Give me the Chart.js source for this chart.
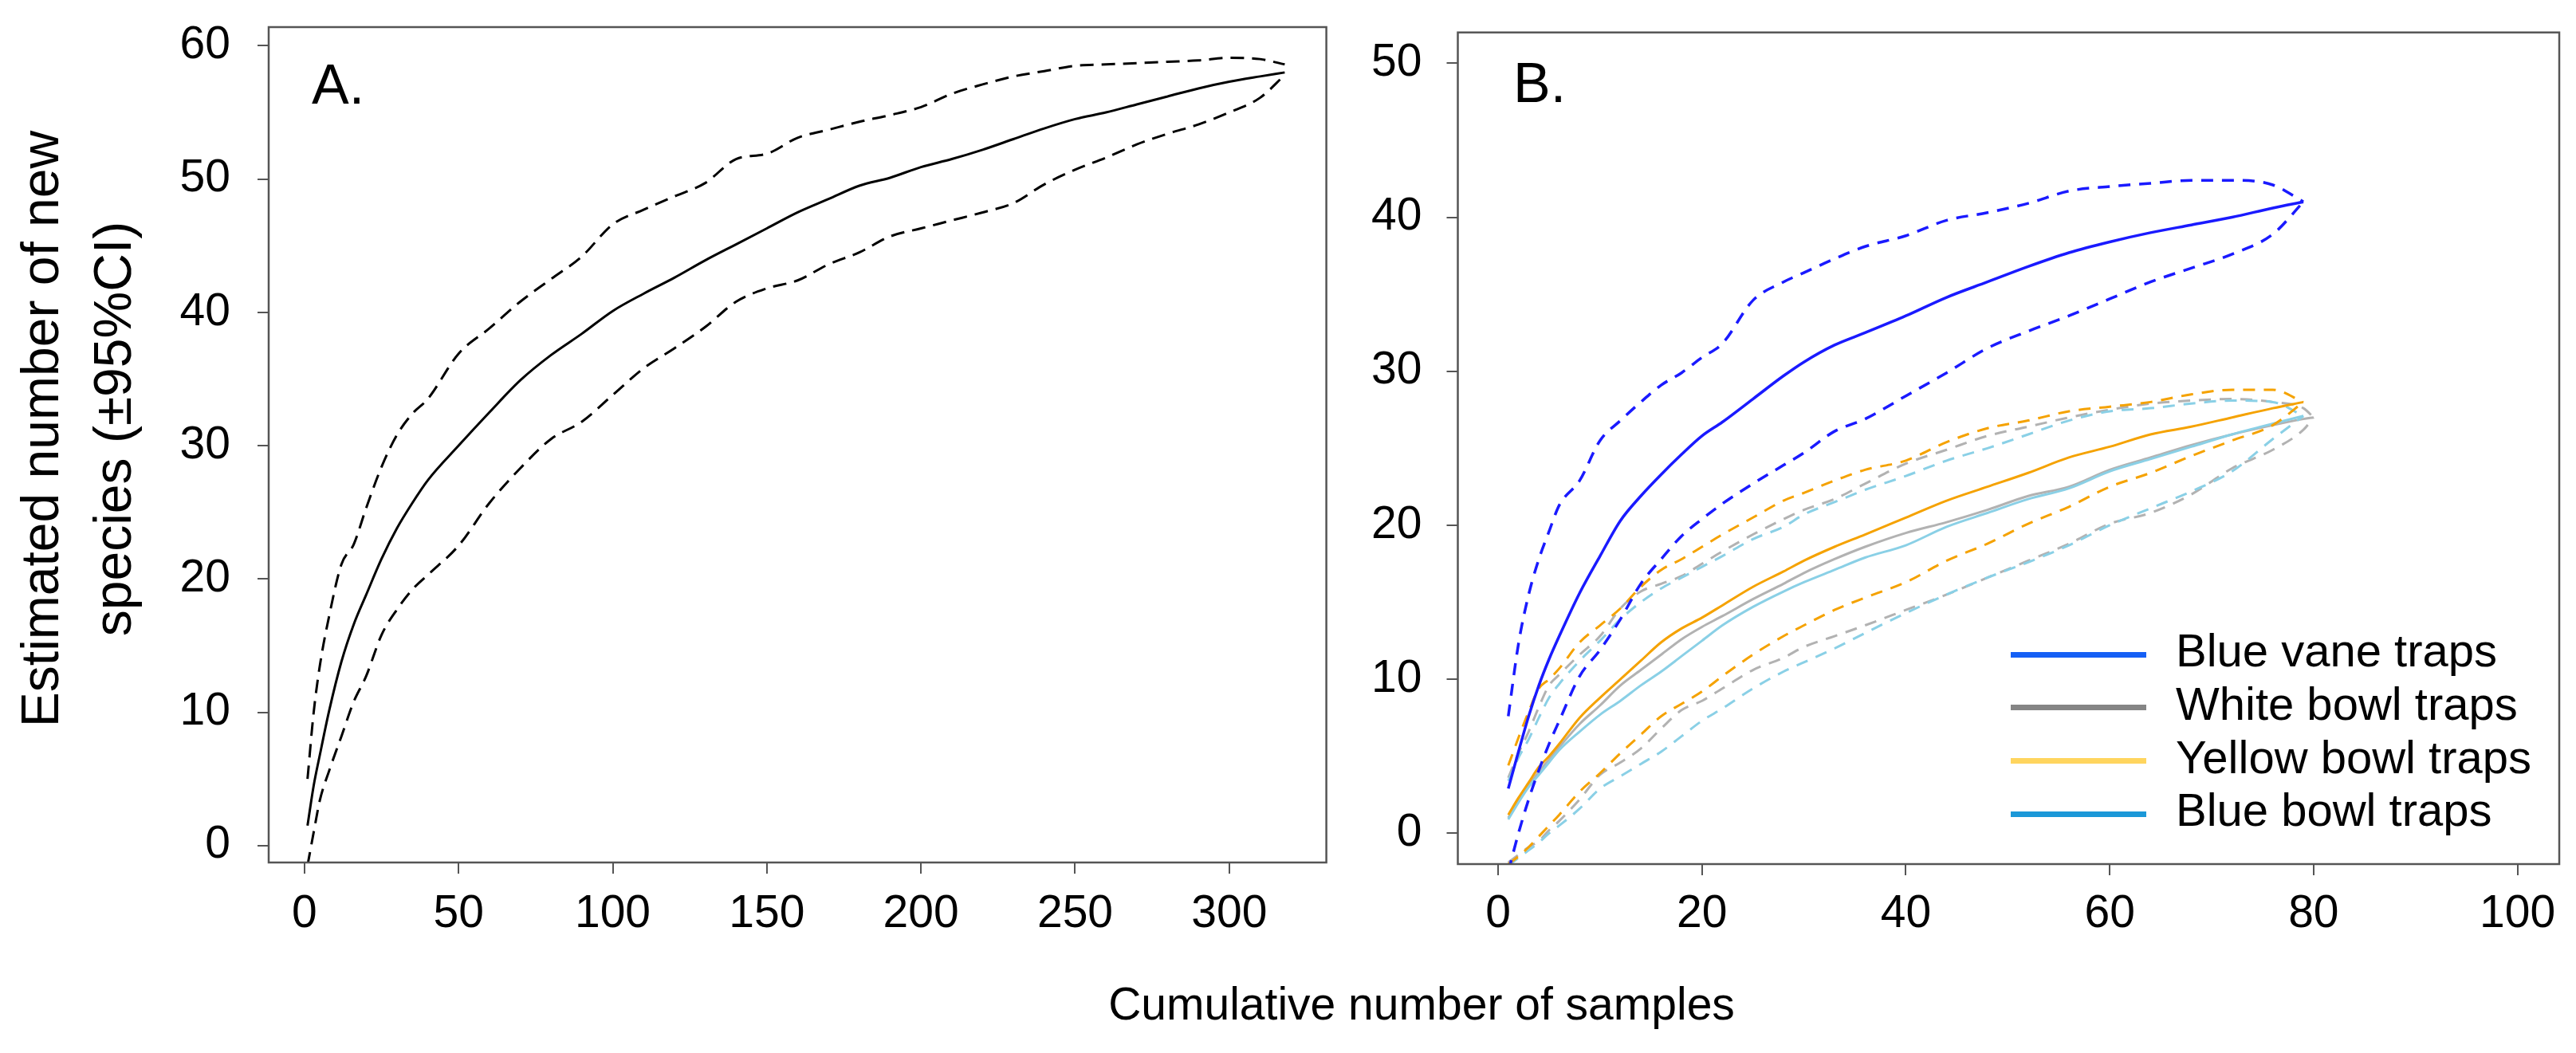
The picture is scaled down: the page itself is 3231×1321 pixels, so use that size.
<!DOCTYPE html>
<html>
<head>
<meta charset="utf-8">
<script src="https://cdn.jsdelivr.net/npm/chart.js@4.4.1/dist/chart.umd.min.js"></script>
<style>
html,body{margin:0;padding:0;background:#fff;}
body{width:3231px;height:1321px;position:relative;overflow:hidden;font-family:"Liberation Sans",Arial,sans-serif;color:#000;}
#wa{position:absolute;left:0;top:0;width:1720px;height:1321px;}
#wb{position:absolute;left:1720px;top:0;width:1511px;height:1321px;}
.txt{position:absolute;white-space:nowrap;color:#000;font-family:"Liberation Sans",Arial,sans-serif;}
#ytitle{left:-404px;top:447px;width:1000px;height:182px;font-size:66px;line-height:91px;text-align:center;transform:rotate(-90deg);}
#xtitle{left:1283px;top:1231px;width:1000px;font-size:57px;line-height:57px;text-align:center;}
.panel{font-size:70px;line-height:70px;}
.legline{position:absolute;height:7px;width:170px;left:2522px;}
.legtxt{position:absolute;left:2729px;font-size:58px;line-height:58px;}
</style>
</head>
<body>
<div id="wa"><canvas id="ca" width="1720" height="1321"></canvas></div>
<div id="wb"><canvas id="cb" width="1511" height="1321"></canvas></div>
<div id="ytitle" class="txt">Estimated number of new<br>species (±95%CI)</div>
<div id="xtitle" class="txt">Cumulative number of samples</div>
<div class="txt panel" style="left:391px;top:71px;">A.</div>
<div class="txt panel" style="left:1898px;top:69px;">B.</div>
<div id="legend"></div>
<script>
// ---------- Panel A data ----------
const aSamples = [1,3,5,8,12,16,20,25,30,35,40,50,60,70,80,90,100,110,120,130,140,150,160,170,180,190,200,210,220,230,240,250,260,270,280,290,300,310,318];
const aMean  = [1.5,4.5,6.8,10.1,13.8,16.6,18.8,21.5,23.8,25.7,27.4,30.0,32.5,34.9,36.8,38.4,40.1,41.4,42.6,43.9,45.1,46.3,47.5,48.5,49.5,50.1,50.9,51.5,52.2,53.0,53.8,54.5,55.0,55.6,56.2,56.8,57.3,57.7,58.0];
const aUpper = [5.0,10.0,13.5,17.2,21.1,22.6,25.3,28.4,30.8,32.4,33.5,36.9,38.8,40.8,42.5,44.2,46.6,47.7,48.7,49.7,51.5,51.9,53.1,53.7,54.3,54.8,55.4,56.4,57.1,57.7,58.1,58.5,58.6,58.7,58.8,58.9,59.1,59.0,58.6];
const aLower = [-1.5,1.0,3.4,5.6,8.2,10.8,12.7,15.8,17.7,19.2,20.3,22.5,25.7,28.3,30.5,31.8,33.8,35.8,37.3,38.9,40.8,41.8,42.4,43.6,44.5,45.7,46.3,46.9,47.5,48.2,49.6,50.7,51.6,52.6,53.4,54.1,55.0,56.1,57.8];
const aXTicks = [0,50,100,150,200,250,300];
const aYTicks = [0,10,20,30,40,50,60];

// ---------- Panel B data ----------
const bSamples = [1,2,3,4,5,6,8,10,12,14,16,18,20,22,25,28,30,33,36,40,44,48,52,56,60,64,68,72,76,79,80];
const vaneMean   = [2.9,5.3,7.6,9.6,11.3,12.8,15.6,18.0,20.3,21.9,23.3,24.6,25.8,26.7,28.2,29.7,30.6,31.7,32.5,33.6,34.8,35.8,36.8,37.7,38.4,39.0,39.5,40.0,40.6,41.0,null];
const vaneUpper  = [7.6,12.3,15.5,17.8,19.6,21.3,22.9,25.5,26.8,28.0,29.1,29.9,30.9,31.8,34.6,35.8,36.4,37.3,38.1,38.8,39.8,40.3,40.9,41.7,42.0,42.2,42.4,42.4,42.1,41.0,null];
const vaneLower  = [-2.5,0.0,2.2,4.1,5.8,7.3,10.2,11.9,13.9,16.2,17.8,19.3,20.4,21.4,22.7,23.9,24.7,26.1,26.9,28.4,29.9,31.5,32.6,33.6,34.7,35.8,36.7,37.6,38.9,41.0,null];
const whiteMean  = [1.0,2.1,3.1,4.0,4.8,5.6,7.1,8.3,9.6,10.6,11.6,12.6,13.4,14.1,15.2,16.2,16.9,17.8,18.6,19.5,20.2,21.0,21.9,22.5,23.6,24.4,25.2,25.9,26.5,26.9,27.0];
const whiteUpper = [3.6,5.2,6.6,8.2,9.6,10.3,11.6,12.8,14.6,15.7,16.2,16.7,17.5,18.3,19.4,20.4,21.0,21.7,22.7,24.0,24.9,25.8,26.4,27.0,27.5,27.9,28.1,28.2,28.0,27.6,27.0];
const whiteLower = [-1.9,-1.4,-0.9,-0.5,0.2,0.8,2.2,3.8,4.6,5.5,6.8,8.0,8.6,9.4,10.6,11.4,12.1,12.8,13.5,14.5,15.5,16.6,17.7,18.8,20.1,20.8,22.0,23.7,24.9,26.2,27.0];
const yellowMean  = [1.2,2.3,3.3,4.3,5.0,5.8,7.5,8.8,10.0,11.2,12.4,13.3,14.0,14.8,16.0,17.0,17.7,18.6,19.4,20.5,21.6,22.5,23.4,24.4,25.1,25.9,26.4,27.0,27.6,28.0,null];
const yellowUpper = [4.4,6.2,7.9,9.4,10.0,10.7,12.4,13.5,14.6,16.0,17.1,17.8,18.6,19.4,20.5,21.6,22.1,22.9,23.6,24.2,25.4,26.3,26.8,27.4,27.7,28.0,28.5,28.8,28.8,28.0,null];
const yellowLower = [-2.0,-1.5,-0.9,-0.2,0.5,1.2,2.7,3.9,5.2,6.4,7.6,8.4,9.2,10.2,11.6,12.8,13.5,14.5,15.3,16.3,17.7,18.8,20.1,21.2,22.5,23.4,24.5,25.5,26.5,28.0,null];
const blueMean  = [0.9,2.0,3.0,3.8,4.6,5.4,6.6,7.7,8.6,9.6,10.5,11.5,12.5,13.5,14.7,15.7,16.3,17.1,17.9,18.7,19.9,20.8,21.7,22.4,23.5,24.3,25.1,25.9,26.6,27.1,null];
const blueUpper = [3.4,4.9,6.1,7.5,8.8,9.7,11.2,12.5,13.9,15.0,15.9,16.6,17.3,18.0,19.1,19.9,20.7,21.5,22.3,23.2,24.2,25.0,25.9,26.8,27.4,27.6,27.9,28.1,28.0,27.1,null];
const blueLower = [-2.1,-1.6,-1.1,-0.6,0.0,0.5,1.6,2.9,3.7,4.5,5.3,6.3,7.3,8.1,9.4,10.5,11.1,12.0,13.0,14.3,15.5,16.6,17.6,18.7,20.0,21.1,22.2,23.5,25.6,27.1,null];
const bXTicks = [0,20,40,60,80,100];
const bYTicks = [0,10,20,30,40,50];

const groupNames   = ['Blue vane traps','White bowl traps','Yellow bowl traps','Blue bowl traps'];
const lineColors   = ['#1a1aff','#b2b2b2','#f5a200','#8ad0e6'];
const legendColors = ['#1560f5','#858585','#ffd55e','#1b98d8'];

// ---------- helpers ----------
function pts(xs, ys){ return xs.map((x,i)=>({x:x, y:ys[i]})).filter(p=>p.y!==null && p.y!==undefined); }
const FONT = 'Liberation Sans';
const framePlugin = {
  id:'frame',
  afterDraw(chart){
    const {ctx, chartArea:a} = chart;
    ctx.save();
    ctx.strokeStyle = '#555';
    ctx.lineWidth = 2.5;
    ctx.strokeRect(a.left, a.top, a.right-a.left, a.bottom-a.top);
    ctx.restore();
  }
};
function axis(min, max, tickVals, fitFn, pad){
  return {
    type:'linear', min:min, max:max,
    afterBuildTicks: s => { s.ticks = tickVals.map(v=>({value:v})); },
    afterFit: fitFn,
    grid:{drawOnChartArea:false, drawTicks:true, tickLength:14, color:'#555', lineWidth:2},
    border:{display:false},
    ticks:{font:{family:FONT, size:57}, color:'#000', padding:pad, maxRotation:0, autoSkip:false, callback:v=>String(v)}
  };
}
function lineDs(label, data, color, width, dashed, dash){
  return {label:label, data:data, borderColor:color, borderWidth:width, borderDash: dashed ? dash : [],
          pointRadius:0, fill:false, cubicInterpolationMode:'monotone', spanGaps:false};
}

// ---------- Chart A ----------
new Chart(document.getElementById('ca'), {
  type:'line',
  data:{datasets:[
    lineDs('Mean', pts(aSamples,aMean), '#000', 3, false),
    lineDs('Upper 95% CI', pts(aSamples,aUpper), '#000', 3, true, [17,10]),
    lineDs('Lower 95% CI', pts(aSamples,aLower), '#000', 3, true, [17,10])
  ]},
  options:{
    responsive:false, animation:false,
    layout:{padding:{left:0, top:34, right:56.4, bottom:0}},
    plugins:{legend:{display:false}, tooltip:{enabled:false}},
    scales:{
      x: axis(-11.6, 331.5, aXTicks, s=>{ s.height = 239; s.paddingLeft=0; s.paddingRight=0; }, 17),
      y: axis(-1.27, 61.4, aYTicks, s=>{ s.width = 337; s.paddingTop=0; s.paddingBottom=0; }, 34)
    }
  },
  plugins:[framePlugin]
});

// ---------- Chart B ----------
const groups = [
  [vaneMean, vaneUpper, vaneLower, 3.5],
  [yellowMean, yellowUpper, yellowLower, 3],
  [blueMean, blueUpper, blueLower, 3],
  [whiteMean, whiteUpper, whiteLower, 3]
];
const groupIdx = [0, 2, 3, 1];
const bDatasets = [];
groups.forEach((g, k) => {
  const gi = groupIdx[k];
  bDatasets.push(lineDs(groupNames[gi], pts(bSamples, g[0]), lineColors[gi], g[3], false));
  bDatasets.push(lineDs(groupNames[gi]+' upper', pts(bSamples, g[1]), lineColors[gi], g[3], true, [15,11]));
  bDatasets.push(lineDs(groupNames[gi]+' lower', pts(bSamples, g[2]), lineColors[gi], g[3], true, [15,11]));
});
new Chart(document.getElementById('cb'), {
  type:'line',
  data:{datasets:bDatasets},
  options:{
    responsive:false, animation:false,
    layout:{padding:{left:0, top:40.7, right:21, bottom:0}},
    plugins:{legend:{display:false}, tooltip:{enabled:false}},
    scales:{
      x: axis(-3.95, 104.1, bXTicks, s=>{ s.height = 237; s.paddingLeft=0; s.paddingRight=0; }, 15),
      y: axis(-2.0, 52.0, bYTicks, s=>{ s.width = 108.5; s.paddingTop=0; s.paddingBottom=0; }, 31)
    }
  },
  plugins:[framePlugin]
});

// ---------- Legend (HTML) ----------
const leg = document.getElementById('legend');
groupNames.forEach((name, i) => {
  const cy = 821 + i*66.8;
  const ln = document.createElement('div');
  ln.className = 'legline';
  ln.style.top = (cy - 3.5) + 'px';
  ln.style.background = legendColors[i];
  leg.appendChild(ln);
  const tx = document.createElement('div');
  tx.className = 'txt legtxt';
  tx.style.top = (cy + 15 - 49) + 'px';
  tx.textContent = name;
  leg.appendChild(tx);
});
</script>
</body>
</html>
